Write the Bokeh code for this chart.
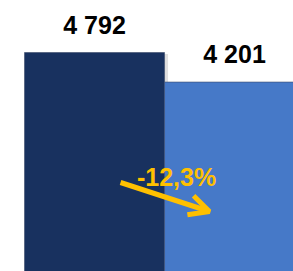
from bokeh.plotting import figure
from bokeh.models import ColumnDataSource, LabelSet, Range1d, Arrow, OpenHead, Label
from bokeh.core.properties import value
from bokeh.embed import file_html
from bokeh.resources import INLINE

# data
categories = ["Période 1", "Période 2"]
values = [4792, 4201]
value_labels = ["4 792", "4 201"]
bar_colors = ["#18315F", "#4679C8"]
change_label = "-12,3%"

xs = list(range(len(categories)))
src = ColumnDataSource(dict(x=xs, top=values, label=value_labels, color=bar_colors))

FONT = "Liberation Sans"

p = figure(width=293, height=271, output_backend="svg", toolbar_location=None,
           x_range=Range1d(-0.6714, 1.421), y_range=Range1d(412, 5832),
           min_border=0, outline_line_color=None)
p.axis.visible = False
p.grid.visible = False
p.background_fill_color = "white"

# soft shadow of first bar
p.vbar(x=[xs[0] + 0.025], top=[values[0] - 30], bottom=0, width=1.0,
       fill_color="#000000", fill_alpha=0.12, line_color=None)
p.vbar(x="x", top="top", bottom=0, width=1.0, fill_color="color",
       line_color="#3a4a6a", line_width=0.6, source=src)

labels = LabelSet(x="x", y="top", text="label", source=src, y_offset=19,
                  text_align="center", text_baseline="alphabetic",
                  text_font=value(FONT), text_font_style="bold",
                  text_font_size=value("25px"), text_color="#000000")
p.add_layout(labels)

gold = "#FFC000"
p.add_layout(Arrow(x_start=0.186, y_start=2192, x_end=0.821, y_end=1612,
                   line_color=gold, line_width=5,
                   end=OpenHead(size=20, line_color=gold, line_width=5)))
p.add_layout(Label(x=0.586, y=2312, text=change_label, text_align="center",
                   text_baseline="alphabetic", text_font=FONT,
                   text_font_style="bold", text_font_size="25px", text_color=gold))

open("out.html", "w").write(file_html(p, INLINE))
